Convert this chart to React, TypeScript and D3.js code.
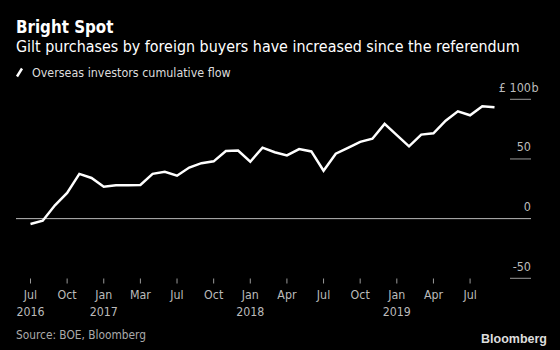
import React from 'react';
import * as d3 from 'd3';

const months = [
  '2016-07', '2016-08', '2016-09', '2016-10', '2016-11', '2016-12',
  '2017-01', '2017-02', '2017-03', '2017-04', '2017-05', '2017-06',
  '2017-07', '2017-08', '2017-09', '2017-10', '2017-11', '2017-12',
  '2018-01', '2018-02', '2018-03', '2018-04', '2018-05', '2018-06',
  '2018-07', '2018-08', '2018-09', '2018-10', '2018-11', '2018-12',
  '2019-01', '2019-02', '2019-03', '2019-04', '2019-05', '2019-06',
  '2019-07', '2019-08', '2019-09',
];

const cumulativeFlow = [
  -4.5, -1.7, 11.2, 21.5, 37.5, 34.1,
  26.8, 27.9, 27.9, 28.2, 37.5, 39.2,
  36.0, 42.8, 46.5, 48.0, 56.6, 57.1,
  47.7, 59.5, 55.6, 53.0, 58.3, 56.3,
  40.2, 54.4, 59.3, 64.3, 67.0, 79.4,
  70.0, 60.6, 70.4, 71.5, 82.1, 89.9,
  86.6, 94.1, 93.3,
];

const yTicks = [100, 50, 0, -50];

const xTickMonths = [
  '2016-07', '2016-10', '2017-01', '2017-04', '2017-07', '2017-10',
  '2018-01', '2018-04', '2018-07', '2018-10', '2019-01', '2019-04', '2019-07',
];
const xTickLabels = ['Jul', 'Oct', 'Jan', 'Mar', 'Jul', 'Oct', 'Jan', 'Apr', 'Jul', 'Oct', 'Jan', 'Apr', 'Jul'];
const xTickYears = ['2016', '', '2017', '', '', '', '2018', '', '', '', '2019', '', ''];

const FONT = "'DejaVu Sans Condensed', 'DejaVu Sans', sans-serif";

export default function App() {
  const W = 560;
  const H = 350;
  const x = d3.scalePoint<string>().domain(months).range([30.5, 494.5]);
  const y = d3.scaleLinear().domain([-50, 100]).range([278.3, 99.3]);
  const line = d3
    .line<number>()
    .x((_, i) => x(months[i]) as number)
    .y((d) => y(d));

  const gridRight = 531;
  const gridLeft = 16;

  return (
    <svg
      width={W}
      height={H}
      style={{ position: 'absolute', left: 0, top: 0, background: '#000' }}
      fontFamily={FONT}
      fontStretch="condensed"
    >
      <rect x={0} y={0} width={W} height={H} fill="#000" />
      <text x={16} y={32.5} fill="#fff" fontSize={16.8} fontWeight="bold">Bright Spot</text>
      <text x={16} y={51.5} fill="#fff" fontSize={15.9}>
        Gilt purchases by foreign buyers have increased since the referendum
      </text>
      <line x1={17} y1={76.5} x2={22} y2={68.5} stroke="#fff" strokeWidth={2.5} />
      <text x={32} y={76.7} fill="#ddd" fontSize={12.4}>Overseas investors cumulative flow</text>

      {yTicks.map((t) => (
        <g key={t}>
          <line
            x1={t === 0 ? gridLeft : 510}
            x2={gridRight}
            y1={y(t)}
            y2={y(t)}
            stroke={t === 0 ? '#bbb' : '#999'}
            strokeWidth={1}
          />
          <text x={gridRight} y={y(t) - 7.5} fill="#bbb" fontSize={12.5} textAnchor="end">
            {t === 100 ? '£ 100' : String(t)}
          </text>
          {t === 100 && (
            <text x={gridRight + 0.5} y={y(t) - 7.5} fill="#bbb" fontSize={12.5}>b</text>
          )}
        </g>
      ))}

      {xTickMonths.map((m, i) => {
        const px = x(m) as number;
        return (
          <g key={m}>
            <line x1={px} x2={px} y1={278.5} y2={283.5} stroke="#999" strokeWidth={1} />
            <text x={px} y={299.3} fill="#bbb" fontSize={12.3} textAnchor="middle">{xTickLabels[i]}</text>
            {xTickYears[i] && (
              <text x={px} y={315.7} fill="#bbb" fontSize={12.3} textAnchor="middle">{xTickYears[i]}</text>
            )}
          </g>
        );
      })}

      <path
        d={line(cumulativeFlow) || ''}
        fill="none"
        stroke="#fff"
        strokeWidth={2.5}
        strokeLinejoin="miter"
      />

      <text x={16} y={338.5} fill="#aaa" fontSize={11.8}>Source: BOE, Bloomberg</text>
      <text x={547} y={342.7} fill="#ddd" fontSize={12.5} fontWeight="bold" textAnchor="end" fontFamily="'Liberation Sans', Arial, sans-serif">Bloomberg</text>
    </svg>
  );
}
